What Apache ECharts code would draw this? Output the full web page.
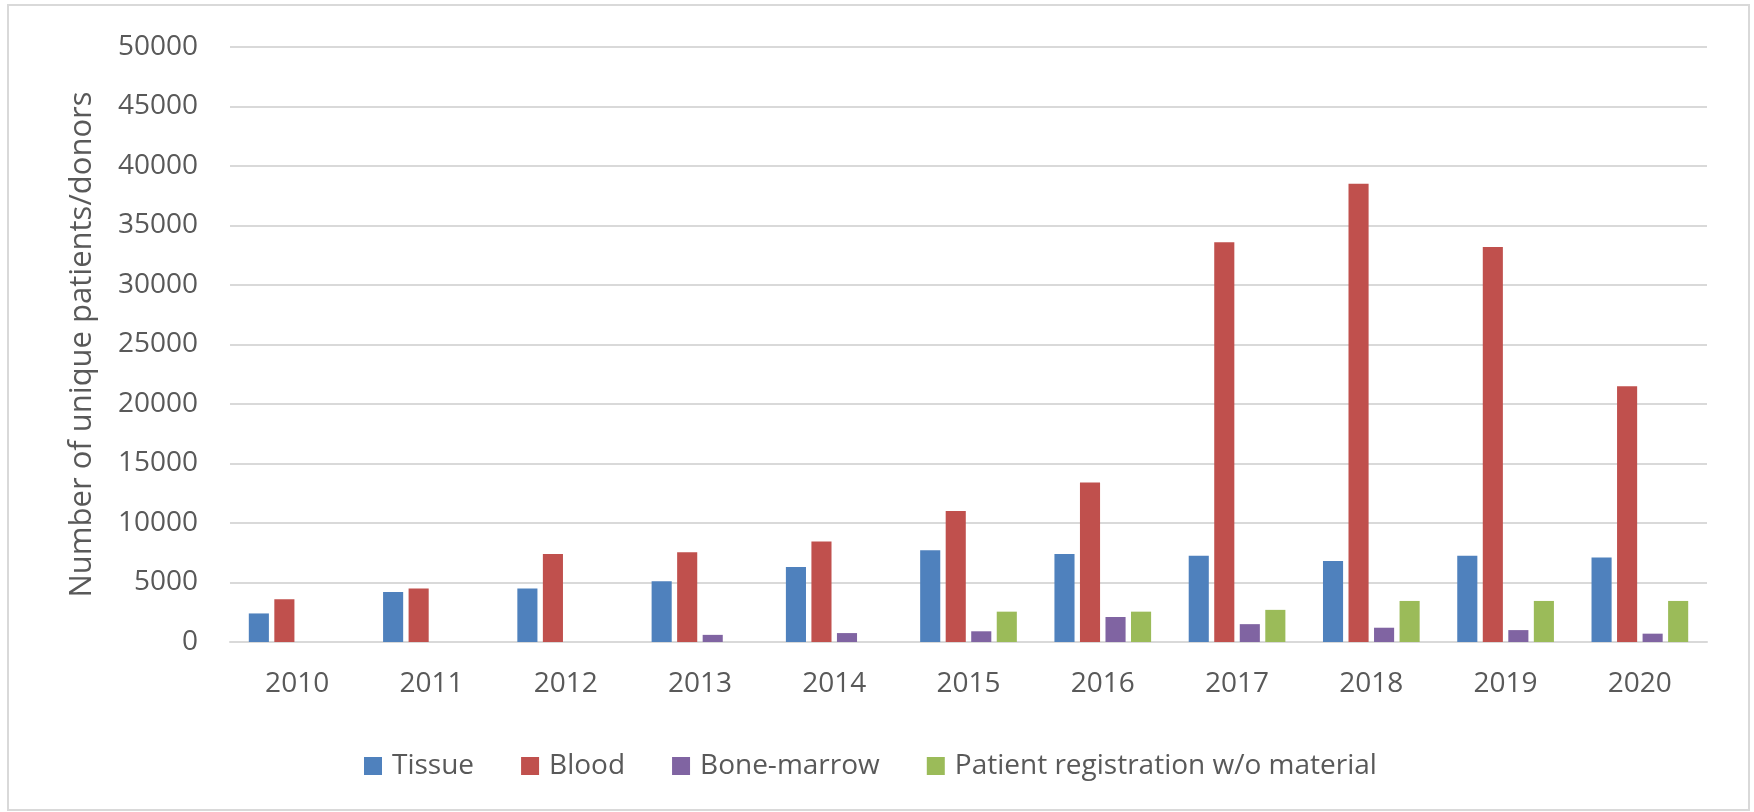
<!DOCTYPE html>
<html>
<head>
<meta charset="utf-8">
<script src="https://cdn.jsdelivr.net/npm/echarts@6/dist/echarts.min.js"></script>
<style>
  html, body { margin: 0; padding: 0; background: #fff; }
  #chart { width: 1754px; height: 812px; }
</style>
</head>
<body>
<div id="chart"></div>
<script>
var years = ['2010', '2011', '2012', '2013', '2014', '2015', '2016', '2017', '2018', '2019', '2020'];
var tissue = [2400, 4200, 4500, 5100, 6300, 7700, 7400, 7250, 6800, 7250, 7100];
var blood = [3600, 4500, 7400, 7550, 8450, 11000, 13400, 33600, 38500, 33200, 21500];
var boneMarrow = [0, 0, 0, 600, 750, 900, 2100, 1500, 1200, 1000, 700];
var patientReg = [0, 0, 0, 0, 0, 2550, 2550, 2700, 3450, 3450, 3450];

var font = '"Open Sans", sans-serif';
var txt = '#595959';

function bar(name, data, color) {
  return {
    name: name,
    type: 'bar',
    data: data,
    barGap: '27%',
    barCategoryGap: '28%',
    itemStyle: { color: color }
  };
}

var chart = echarts.init(document.getElementById('chart'));
chart.setOption({
  animation: false,
  graphic: [{
    type: 'rect',
    shape: { x: 8, y: 5, width: 1741, height: 805 },
    style: { fill: 'none', stroke: '#d9d9d9', lineWidth: 2 }
  }],
  legend: {
    left: 359,
    top: 747,
    itemWidth: 18,
    itemHeight: 18,
    itemGap: 47,
    icon: 'rect',
    textStyle: { fontFamily: font, fontSize: 28, color: txt, lineHeight: 28, padding: [0, 0, 0, 5] },
    data: ['Tissue', 'Blood', 'Bone-marrow', 'Patient registration w/o material']
  },
  grid: { left: 230, right: 47, top: 47, bottom: 170 },
  xAxis: {
    type: 'category',
    data: years,
    axisTick: { show: false },
    axisLine: { lineStyle: { color: '#d9d9d9', width: 2 } },
    axisLabel: { fontFamily: font, fontSize: 28, color: txt, margin: 28, lineHeight: 28 }
  },
  yAxis: {
    type: 'value',
    min: 0,
    max: 50000,
    interval: 5000,
    name: 'Number of unique patients/donors',
    nameLocation: 'middle',
    nameGap: 132,
    nameTextStyle: { fontFamily: font, fontSize: 31, color: txt },
    axisLine: { show: false },
    axisTick: { show: false },
    splitLine: { lineStyle: { color: '#d9d9d9', width: 2 } },
    axisLabel: {
      fontFamily: font, fontSize: 28, color: txt, margin: 32,
      formatter: function (v) { return String(v); }
    }
  },
  series: [
    bar('Tissue', tissue, '#4F81BD'),
    bar('Blood', blood, '#C0504D'),
    bar('Bone-marrow', boneMarrow, '#8064A2'),
    bar('Patient registration w/o material', patientReg, '#9BBB59')
  ]
});
</script>
</body>
</html>
